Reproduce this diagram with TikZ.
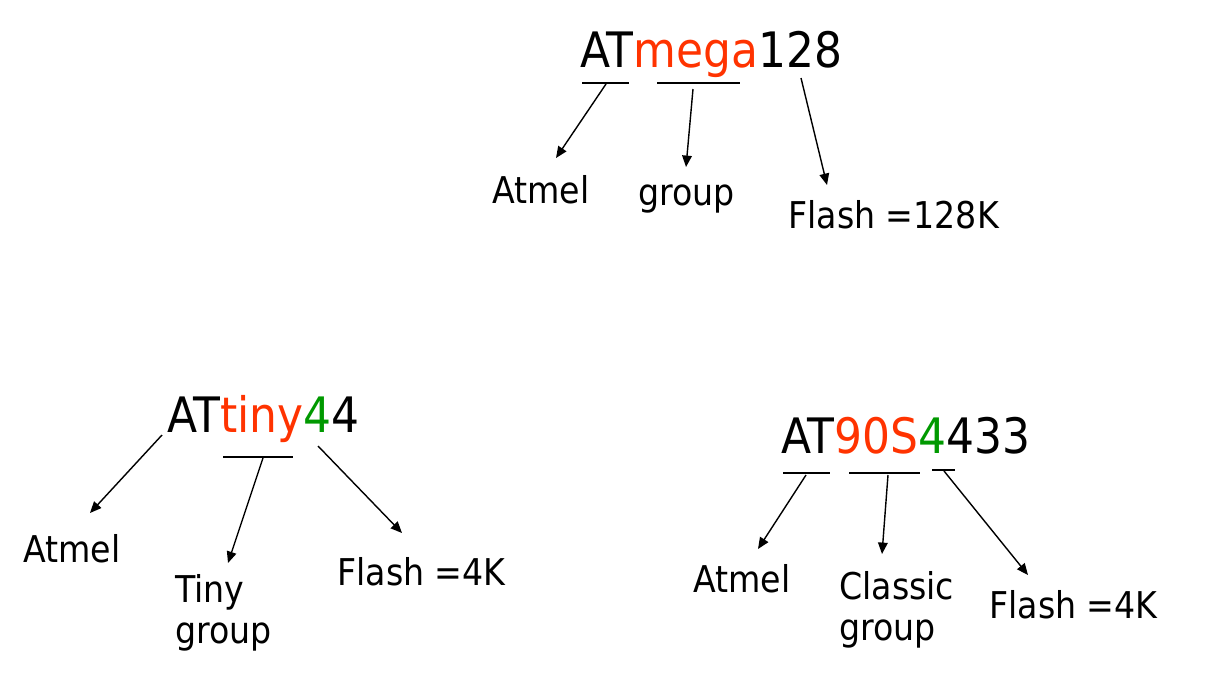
\documentclass[tikz,border=0pt]{standalone}
\usepackage{fontspec}
\setmainfont{DejaVu Sans Condensed}
\usepackage{xcolor}
\usetikzlibrary{arrows.meta}
\definecolor{partred}{RGB}{255,51,0}
\definecolor{partgreen}{RGB}{0,153,0}
\newcommand{\chipfont}{\fontsize{27.8}{33}\selectfont}
\newcommand{\labfont}{\fontsize{21}{23.3}\selectfont}

\begin{document}
\begin{tikzpicture}[x=0.02cm,y=-0.02cm]
        \tikzstyle{every node} = [inner sep = 0pt, anchor = base west];
        \tikzstyle{chip} = [font=\chipfont]
        \tikzstyle{lab} = [font=\labfont, align=left]
        \tikzstyle{bar} = [line width=0.85pt]
        \tikzstyle{arr} = [line width=0.8pt, -{Triangle[length=6.5pt,width=5.5pt]}]
        \useasboundingbox (0,0) rectangle (1231,680);
        % ATmega128
        \node[chip](mega) at (580,67) {AT\textcolor{partred}{mega}128};
        \node[lab](megaAtmel) at (492,203) {Atmel};
        \node[lab](megaGroup) at (638,205) {group};
        \node[lab](megaFlash) at (788,228) {Flash =128K};
        \draw[bar] (582,83) -- (629,83);
        \draw[bar] (657,83) -- (740,83);
        \coordinate (ma1) at (606,84);
        \coordinate (ma2) at (556,158);
        \coordinate (mg1) at (693,89);
        \coordinate (mg2) at (686,167);
        \coordinate (mf1) at (801,78);
        \coordinate (mf2) at (827,185);
        \draw[arr] (ma1) -- (ma2);
        \draw[arr] (mg1) -- (mg2);
        \draw[arr] (mf1) -- (mf2);
        % ATtiny44
        \node[chip](tiny) at (167,432) {AT\textcolor{partred}{tiny}\textcolor{partgreen}{4}4};
        \node[lab](tinyAtmel) at (23,562) {Atmel};
        \node[lab](tinyGroup) at (175,643) {Tiny\\group};
        \node[lab](tinyFlash) at (337,585) {Flash =4K};
        \draw[bar] (223,457) -- (293,457);
        \coordinate (ta1) at (162,435);
        \coordinate (ta2) at (90,513);
        \coordinate (tg1) at (263,458);
        \coordinate (tg2) at (228,563);
        \coordinate (tf1) at (318,446);
        \coordinate (tf2) at (402,533);
        \draw[arr] (ta1) -- (ta2);
        \draw[arr] (tg1) -- (tg2);
        \draw[arr] (tf1) -- (tf2);
        % AT90S4433
        \node[chip](classic) at (781,453) {AT\textcolor{partred}{90S}\textcolor{partgreen}{4}433};
        \node[lab](clAtmel) at (693,592) {Atmel};
        \node[lab](clGroup) at (839,640) {Classic\\group};
        \node[lab](clFlash) at (989,618) {Flash =4K};
        \draw[bar] (783,473) -- (830,473);
        \draw[bar] (849,473) -- (920,473);
        \draw[bar] (932,470) -- (955,470);
        \coordinate (ca1) at (806,475);
        \coordinate (ca2) at (758,549);
        \coordinate (cg1) at (888,475);
        \coordinate (cg2) at (882,554);
        \coordinate (cf1) at (944,471);
        \coordinate (cf2) at (1028,575);
        \draw[arr] (ca1) -- (ca2);
        \draw[arr] (cg1) -- (cg2);
        \draw[arr] (cf1) -- (cf2);
\end{tikzpicture}
\end{document}
